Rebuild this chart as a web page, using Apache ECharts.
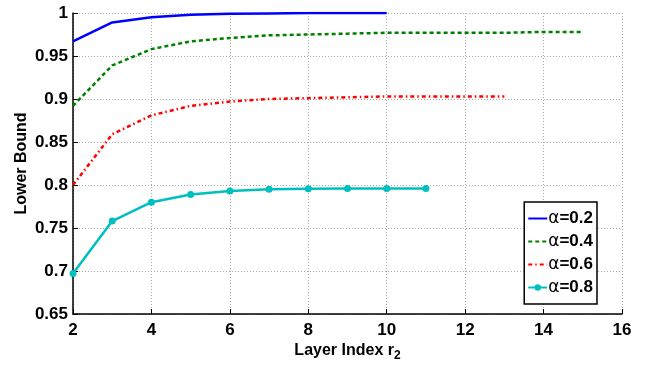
<!DOCTYPE html>
<html><head><meta charset="utf-8">
<script src="https://cdn.jsdelivr.net/npm/echarts@6/dist/echarts.min.js"></script>
<style>html,body{margin:0;padding:0;background:#fff}#c{width:647px;height:365px}</style>
</head><body><div id="c"></div>
<script>
const layers02 = [2,3,4,5,6,7,8,9,10];
const vals02 = [0.967,0.989,0.995,0.998,0.999,0.9995,1.0,1.0,1.0];
const layers04 = [2,3,4,5,6,7,8,9,10,11,12,13,14,15];
const vals04 = [0.892,0.939,0.958,0.967,0.971,0.974,0.975,0.976,0.977,0.977,0.977,0.977,0.978,0.978];
const layers06 = [2,3,4,5,6,7,8,9,10,11,12,13];
const vals06 = [0.800,0.859,0.881,0.892,0.897,0.900,0.901,0.902,0.903,0.903,0.903,0.903];
const layers08 = [2,3,4,5,6,7,8,9,10,11];
const vals08 = [0.697,0.758,0.780,0.789,0.793,0.795,0.7955,0.796,0.796,0.796];
const seriesNames = ['α=0.2','α=0.4','α=0.6','α=0.8'];
const xTicks = [2,4,6,8,10,12,14,16];
const yTicks = [0.65,0.7,0.75,0.8,0.85,0.9,0.95,1];

function pairs(xs, ys){ return xs.map((x,i)=>[x,ys[i]]); }
const font = 'Liberation Sans, Arial, sans-serif';
const chart = echarts.init(document.getElementById('c'));
const gridLine = {show:true, lineStyle:{color:'#a8a8a8', type:[1,2], width:1}};
const hidden = {opacity:0};
chart.setOption({
  animation:false,
  backgroundColor:'#fff',
  grid:{left:73, right:25, top:13, bottom:51, outerBoundsMode:'none', containLabel:false},
  xAxis:{type:'value', min:xTicks[0], max:xTicks[xTicks.length-1], interval:2,
    name:'{m|Layer Index r}{s|2}', nameLocation:'middle', nameGap:26, nameMoveOverlap:false,
    nameTextStyle:{verticalAlign:'top', rich:{m:{fontSize:16, fontWeight:'bold', fontFamily:font, color:'#000'},
      s:{fontSize:12, fontWeight:'bold', fontFamily:font, color:'#000', padding:[10,0,0,0]}}},
    axisLine:{show:true, lineStyle:{color:'#000', width:1.5}},
    axisTick:{show:true, inside:true, length:5, lineStyle:{color:'#000'}},
    axisLabel:{color:'#000', fontSize:17, fontWeight:'bold', fontFamily:font, margin:8},
    splitLine:gridLine},
  yAxis:{type:'value', min:yTicks[0], max:yTicks[yTicks.length-1], interval:0.05,
    name:'Lower Bound', nameLocation:'middle', nameGap:43, nameMoveOverlap:false,
    nameTextStyle:{color:'#000', fontSize:16, fontWeight:'bold', fontFamily:font},
    axisLine:{show:true, lineStyle:{color:'#000', width:1.5}},
    axisTick:{show:true, inside:true, length:5, lineStyle:{color:'#000'}},
    axisLabel:{color:'#000', fontSize:17, fontWeight:'bold', fontFamily:font, margin:5,
      formatter:v=>String(Math.round(v*100)/100)},
    splitLine:gridLine},
  legend:{orient:'vertical', right:50, top:202, itemWidth:19, itemHeight:8, itemGap:6,
    padding:[8,4,8,3], borderColor:'#000', borderWidth:1.5, backgroundColor:'#fff', borderRadius:0,
    data:[{name:seriesNames[0], itemStyle:hidden},{name:seriesNames[1], itemStyle:hidden},
      {name:seriesNames[2], itemStyle:hidden},{name:seriesNames[3]}],
    formatter:n=>'{a|α}{b|'+n.slice(1)+'}',
    textStyle:{padding:[0,0,0,-4], rich:{a:{fontSize:17, fontFamily:'DejaVu Sans, sans-serif', color:'#000'},
      b:{fontSize:17, fontWeight:'bold', fontFamily:font, color:'#000'}}}},
  series:[
    {name:seriesNames[0], type:'line', data:pairs(layers02,vals02), symbol:'none',
      lineStyle:{color:'#0000ff', width:2.5}, itemStyle:{color:'#0000ff'}},
    {name:seriesNames[1], type:'line', data:pairs(layers04,vals04), symbol:'none',
      lineStyle:{color:'#008000', width:2.5, type:[4,3]}, itemStyle:{color:'#008000'}},
    {name:seriesNames[2], type:'line', data:pairs(layers06,vals06), symbol:'none',
      lineStyle:{color:'#ff0000', width:2.5, type:[4,3,1.5,3]}, itemStyle:{color:'#ff0000'}},
    {name:seriesNames[3], type:'line', data:pairs(layers08,vals08), symbol:'circle', symbolSize:7,
      lineStyle:{color:'#00bfbf', width:2.5}, itemStyle:{color:'#00bfbf'}}
  ]
});
</script></body></html>
